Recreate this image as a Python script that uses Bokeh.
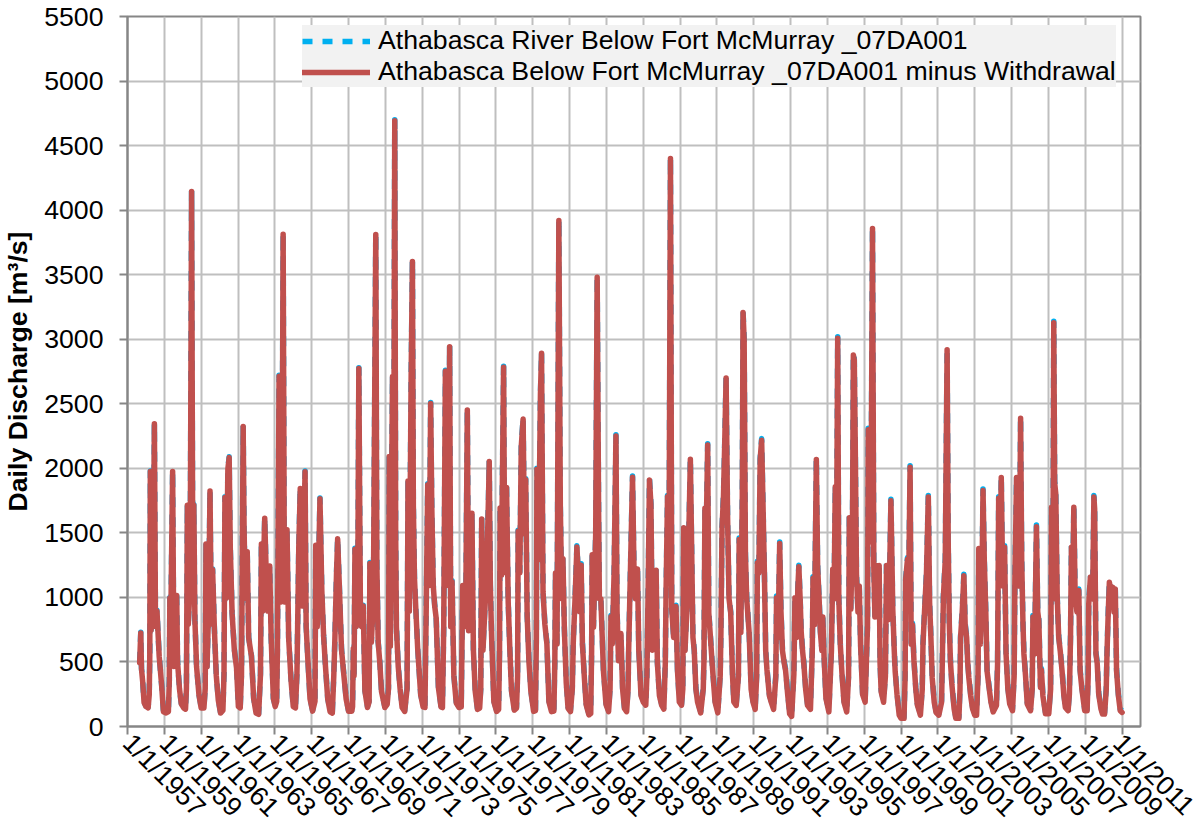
import math
from bokeh.plotting import figure
from bokeh.models import Range1d, FixedTicker, Legend, LegendItem, ColumnDataSource
from bokeh.embed import file_html
from bokeh.resources import INLINE

# (decimal year, daily discharge m3/s), Athabasca River below Fort McMurray
flow_1950s = [
    (1957.66, 500), (1957.72, 730), (1957.76, 450), (1957.82, 360), (1957.90, 190), (1958.00, 160), (1958.12, 150),
    (1958.18, 250), (1958.21, 560), (1958.24, 1980), (1958.28, 750), (1958.33, 1200), (1958.38, 800), (1958.46, 2350),
    (1958.52, 780), (1958.60, 900), (1958.72, 550), (1958.85, 330), (1958.95, 120), (1959.10, 110),
    (1959.22, 120), (1959.27, 360), (1959.30, 1000), (1959.34, 700), (1959.45, 1980), (1959.52, 470), (1959.58, 600),
    (1959.67, 1020), (1959.72, 500), (1959.82, 300), (1959.92, 180),
]
flow_1960s = [
    (1960.05, 150), (1960.15, 140), (1960.20, 300), (1960.25, 1720), (1960.30, 800), (1960.40, 1100), (1960.48, 4150),
    (1960.55, 1000), (1960.60, 1720), (1960.66, 830), (1960.75, 470), (1960.88, 250),
    (1961.00, 150), (1961.15, 150), (1961.22, 300), (1961.26, 1420), (1961.32, 470), (1961.40, 900), (1961.48, 1830),
    (1961.55, 800), (1961.62, 1220), (1961.72, 750), (1961.82, 400), (1961.93, 210),
    (1962.05, 110), (1962.18, 130), (1962.24, 410), (1962.29, 1780), (1962.36, 1000), (1962.45, 2000), (1962.52, 2090),
    (1962.58, 1390), (1962.68, 880), (1962.80, 600), (1962.92, 460),
    (1963.02, 160), (1963.12, 150), (1963.19, 410), (1963.28, 2330), (1963.33, 1530), (1963.40, 1000), (1963.50, 1360),
    (1963.58, 690), (1963.73, 550), (1963.85, 220), (1963.98, 110),
    (1964.12, 100), (1964.22, 410), (1964.27, 1420), (1964.33, 900), (1964.45, 1620), (1964.52, 1250), (1964.62, 900),
    (1964.72, 1250), (1964.80, 690), (1964.92, 220),
    (1965.02, 160), (1965.10, 200), (1965.14, 600), (1965.23, 2720), (1965.30, 970), (1965.38, 1300), (1965.45, 3820),
    (1965.52, 970), (1965.60, 1200), (1965.66, 1530), (1965.75, 690), (1965.88, 360),
    (1966.00, 160), (1966.12, 150), (1966.20, 410), (1966.30, 1400), (1966.38, 1850), (1966.48, 940), (1966.56, 1300),
    (1966.64, 1980), (1966.70, 780), (1966.80, 500), (1966.91, 220),
    (1967.05, 125), (1967.18, 200), (1967.22, 1410), (1967.30, 780), (1967.38, 1300), (1967.45, 1770), (1967.55, 1060),
    (1967.65, 700), (1967.75, 470), (1967.87, 220),
    (1968.00, 120), (1968.12, 110), (1968.20, 400), (1968.25, 630), (1968.35, 1200), (1968.41, 1460), (1968.50, 1100),
    (1968.62, 600), (1968.75, 400), (1968.87, 220),
    (1969.00, 125), (1969.18, 125), (1969.22, 160), (1969.26, 610), (1969.30, 400), (1969.35, 1380), (1969.42, 780),
    (1969.50, 1000), (1969.56, 2780), (1969.65, 800), (1969.71, 780), (1969.80, 940), (1969.89, 280),
]
flow_1970s = [
    (1970.03, 155), (1970.12, 200), (1970.16, 1270), (1970.24, 660), (1970.35, 1000), (1970.48, 3820), (1970.54, 1250),
    (1970.61, 660), (1970.70, 500), (1970.79, 280), (1970.97, 155),
    (1971.10, 180), (1971.17, 300), (1971.21, 2100), (1971.27, 630), (1971.39, 2720), (1971.45, 1500), (1971.51, 4700),
    (1971.56, 1500), (1971.60, 780), (1971.70, 470), (1971.80, 300), (1971.91, 155),
    (1972.05, 125), (1972.18, 300), (1972.23, 1910), (1972.30, 900), (1972.40, 2720), (1972.47, 3610), (1972.52, 1720),
    (1972.58, 1160), (1972.66, 900), (1972.76, 600), (1972.92, 250),
    (1973.05, 160), (1973.15, 155), (1973.22, 940), (1973.30, 1880), (1973.38, 1100), (1973.46, 2510), (1973.52, 1720),
    (1973.60, 1100), (1973.68, 940), (1973.76, 845), (1973.88, 310),
    (1974.02, 160), (1974.10, 155), (1974.17, 780), (1974.26, 2760), (1974.33, 1100), (1974.42, 1300), (1974.49, 2950),
    (1974.55, 780), (1974.62, 1130), (1974.72, 400), (1974.85, 190),
    (1975.00, 155), (1975.12, 160), (1975.20, 1100), (1975.28, 780), (1975.37, 1000), (1975.45, 2460), (1975.52, 750),
    (1975.60, 1000), (1975.70, 1660), (1975.78, 600), (1975.88, 280),
    (1976.00, 140), (1976.12, 150), (1976.18, 300), (1976.23, 1615), (1976.30, 600), (1976.40, 900), (1976.50, 1200),
    (1976.60, 1780), (1976.64, 2060), (1976.70, 1100), (1976.77, 700), (1976.89, 200),
    (1977.04, 125), (1977.15, 140), (1977.20, 600), (1977.23, 1700), (1977.30, 1180), (1977.42, 2790), (1977.48, 1200),
    (1977.58, 1860), (1977.67, 970), (1977.76, 600), (1977.85, 280),
    (1978.00, 135), (1978.12, 150), (1978.18, 400), (1978.21, 1520), (1978.30, 1200), (1978.38, 2180), (1978.48, 2390),
    (1978.55, 1500), (1978.62, 1920), (1978.70, 860), (1978.80, 500), (1978.90, 280),
    (1979.05, 125), (1979.15, 130), (1979.20, 700), (1979.23, 2000), (1979.32, 1300), (1979.42, 2580), (1979.48, 2900),
    (1979.56, 1050), (1979.66, 800), (1979.77, 650), (1979.88, 200),
]
flow_1980s = [
    (1980.02, 125), (1980.15, 130), (1980.20, 500), (1980.24, 1200), (1980.32, 650), (1980.42, 3930), (1980.50, 1710),
    (1980.58, 1000), (1980.64, 1310), (1980.72, 760), (1980.82, 350), (1980.92, 150),
    (1981.05, 125), (1981.15, 300), (1981.20, 650), (1981.30, 1000), (1981.40, 1400), (1981.48, 1180), (1981.55, 900),
    (1981.63, 1260), (1981.70, 650), (1981.80, 400), (1981.90, 180),
    (1982.05, 100), (1982.15, 110), (1982.20, 600), (1982.23, 1340), (1982.30, 780), (1982.42, 1500), (1982.50, 3490),
    (1982.58, 1650), (1982.62, 1000), (1982.70, 1000), (1982.84, 440), (1982.98, 180),
    (1983.12, 125), (1983.20, 300), (1983.25, 860), (1983.32, 650), (1983.42, 1200), (1983.52, 2260), (1983.58, 900),
    (1983.66, 520), (1983.79, 730), (1983.88, 300), (1983.98, 150),
    (1984.10, 125), (1984.18, 300), (1984.21, 600), (1984.30, 1180), (1984.42, 1940), (1984.50, 1230), (1984.58, 1000),
    (1984.69, 1230), (1984.76, 600), (1984.88, 250),
    (1985.00, 200), (1985.14, 175), (1985.20, 400), (1985.27, 1100), (1985.34, 1920), (1985.42, 1730), (1985.50, 600),
    (1985.62, 800), (1985.70, 1220), (1985.77, 500), (1985.88, 250),
    (1986.00, 175), (1986.12, 145), (1986.20, 500), (1986.24, 1040), (1986.32, 1790), (1986.40, 1200), (1986.48, 4410),
    (1986.55, 920), (1986.65, 700), (1986.78, 940), (1986.86, 445), (1986.96, 200),
    (1987.08, 175), (1987.15, 300), (1987.20, 1550), (1987.27, 600), (1987.40, 1000), (1987.52, 1800), (1987.56, 2080),
    (1987.62, 1490), (1987.70, 700), (1987.77, 600), (1987.86, 300), (1987.95, 200),
    (1988.12, 115), (1988.26, 300), (1988.30, 530), (1988.35, 1700), (1988.42, 1500), (1988.50, 2190), (1988.56, 890),
    (1988.65, 700), (1988.77, 445), (1988.90, 200),
    (1989.05, 115), (1989.18, 400), (1989.22, 740), (1989.28, 1550), (1989.36, 1800), (1989.43, 2230), (1989.50, 2710),
    (1989.58, 1640), (1989.66, 1000), (1989.75, 890), (1989.85, 400), (1989.92, 200),
]
flow_1990s = [
    (1990.05, 175), (1990.17, 400), (1990.21, 1460), (1990.30, 740), (1990.38, 1800), (1990.42, 3220), (1990.48, 3010),
    (1990.55, 1340), (1990.62, 1000), (1990.75, 740), (1990.86, 300), (1990.96, 200),
    (1991.08, 145), (1991.16, 400), (1991.20, 1280), (1991.28, 1200), (1991.35, 2080), (1991.43, 2230), (1991.50, 1760),
    (1991.58, 1200), (1991.65, 600), (1991.72, 450), (1991.85, 250), (1991.95, 200),
    (1992.08, 145), (1992.20, 400), (1992.24, 1010), (1992.32, 700), (1992.41, 1430), (1992.48, 900), (1992.56, 600),
    (1992.66, 500), (1992.73, 445), (1992.85, 250), (1992.95, 110),
    (1993.06, 90), (1993.18, 415), (1993.24, 1010), (1993.32, 700), (1993.40, 1100), (1993.45, 1250), (1993.52, 1000),
    (1993.58, 740), (1993.65, 600), (1993.72, 500), (1993.82, 300), (1993.92, 175),
    (1994.08, 145), (1994.18, 600), (1994.22, 1160), (1994.30, 800), (1994.40, 2080), (1994.47, 1250), (1994.55, 1000),
    (1994.62, 740), (1994.70, 600), (1994.75, 860), (1994.82, 550), (1994.92, 230),
    (1995.08, 125), (1995.22, 600), (1995.29, 1230), (1995.36, 1000), (1995.43, 1870), (1995.50, 1500), (1995.56, 3020),
    (1995.62, 1000), (1995.70, 650), (1995.80, 400), (1995.90, 200),
    (1996.05, 125), (1996.15, 400), (1996.19, 1630), (1996.27, 920), (1996.36, 1500), (1996.41, 2890), (1996.46, 2850),
    (1996.51, 2230), (1996.58, 1180), (1996.66, 900), (1996.73, 1100), (1996.80, 650), (1996.91, 260),
    (1997.05, 200), (1997.18, 800), (1997.22, 2310), (1997.30, 1440), (1997.38, 2000), (1997.45, 3870), (1997.52, 1250),
    (1997.58, 860), (1997.66, 1260), (1997.74, 1100), (1997.81, 1260), (1997.86, 500), (1997.92, 280),
    (1998.05, 200), (1998.15, 400), (1998.21, 1260), (1998.30, 840), (1998.38, 1200), (1998.45, 1760), (1998.55, 920),
    (1998.63, 600), (1998.68, 440), (1998.78, 260), (1998.90, 100),
    (1999.00, 75), (1999.16, 75), (1999.22, 400), (1999.25, 1150), (1999.35, 1310), (1999.42, 1200), (1999.49, 2020),
    (1999.55, 650), (1999.62, 800), (1999.70, 520), (1999.80, 300), (1999.88, 180),
]
flow_2000s = [
    (2000.05, 100), (2000.15, 300), (2000.19, 650), (2000.28, 920), (2000.38, 1200), (2000.48, 1790), (2000.55, 970),
    (2000.62, 700), (2000.69, 390), (2000.80, 200), (2000.90, 120),
    (2001.05, 100), (2001.20, 200), (2001.23, 440), (2001.30, 1020), (2001.40, 1300), (2001.50, 2930), (2001.56, 1440),
    (2001.62, 800), (2001.68, 520), (2001.76, 335), (2001.88, 150), (2001.97, 75),
    (2002.14, 75), (2002.20, 300), (2002.23, 700), (2002.32, 900), (2002.41, 1180), (2002.48, 800), (2002.56, 700),
    (2002.62, 500), (2002.68, 390), (2002.78, 250), (2002.88, 150),
    (2003.00, 100), (2003.10, 100), (2003.18, 400), (2003.22, 1390), (2003.30, 650), (2003.38, 1000), (2003.45, 1840),
    (2003.52, 1290), (2003.60, 900), (2003.67, 440), (2003.76, 335), (2003.88, 200),
    (2004.00, 125), (2004.18, 175), (2004.24, 500), (2004.30, 1780), (2004.36, 1200), (2004.44, 1940), (2004.52, 1100),
    (2004.62, 1400), (2004.70, 574), (2004.80, 300), (2004.90, 186),
    (2005.05, 134), (2005.14, 400), (2005.18, 1140), (2005.27, 1940), (2005.35, 1300), (2005.42, 1100), (2005.49, 2400),
    (2005.55, 1300), (2005.62, 800), (2005.67, 574), (2005.76, 400), (2005.85, 186),
    (2006.03, 134), (2006.12, 300), (2006.16, 860), (2006.25, 574), (2006.35, 1560), (2006.42, 900), (2006.48, 832),
    (2006.57, 315), (2006.62, 450), (2006.70, 250), (2006.84, 110),
    (2007.02, 110), (2007.12, 300), (2007.17, 1710), (2007.24, 1000), (2007.29, 3140), (2007.34, 1900), (2007.40, 1814),
    (2007.48, 1000), (2007.56, 700), (2007.64, 600), (2007.74, 444), (2007.84, 250), (2007.92, 160),
    (2008.07, 134), (2008.14, 264), (2008.20, 700), (2008.25, 1400), (2008.32, 1100), (2008.38, 1710), (2008.45, 1039),
    (2008.55, 900), (2008.65, 1065), (2008.72, 444), (2008.82, 300), (2008.97, 134),
    (2009.10, 134), (2009.16, 400), (2009.19, 960), (2009.28, 1170), (2009.40, 1000), (2009.47, 1790), (2009.51, 1700),
    (2009.58, 574), (2009.65, 500), (2009.73, 264), (2009.85, 150), (2009.94, 108),
]
flow_2010s = [
    (2010.05, 108), (2010.14, 300), (2010.18, 574), (2010.25, 900), (2010.31, 1130), (2010.40, 1050), (2010.50, 1090),
    (2010.56, 900), (2010.63, 1078), (2010.70, 444), (2010.80, 250), (2010.90, 134), (2011.00, 121),
]
# withdrawal (m3/s) by decade: 1950s ... 2010s
withdrawal = [5, 6, 8, 10, 12, 12, 12]

year_ticks = list(range(1957, 2012, 2))
tick_labels = {y: "1/1/%d" % y for y in year_ticks}
legend_labels = ["Athabasca River Below Fort McMurray _07DA001",
                 "Athabasca Below Fort McMurray _07DA001 minus Withdrawal"]

t, q_nat, q_net = [], [], []
for pts, w in zip([flow_1950s, flow_1960s, flow_1970s, flow_1980s, flow_1990s, flow_2000s, flow_2010s], withdrawal):
    for yr, q in pts:
        t.append(yr)
        q_nat.append(q)
        q_net.append(q - w)
src = ColumnDataSource(dict(t=t, q_nat=q_nat, q_net=q_net))

FONT = "Liberation Sans"
GRID = "#bfbfbf"
AXC = "#868686"

p = figure(width=1200, height=836, output_backend="svg", toolbar_location=None,
           x_range=Range1d(1957, 2012), y_range=Range1d(0, 5500),
           min_border_left=124, min_border_right=60, min_border_top=16, min_border_bottom=107)
p.outline_line_color = AXC
p.outline_line_width = 2
p.background_fill_color = "white"
p.border_fill_color = "white"

p.xaxis.ticker = FixedTicker(ticks=year_ticks)
p.xaxis.major_label_overrides = tick_labels
p.xaxis.major_label_orientation = -math.pi / 4
p.yaxis.ticker = FixedTicker(ticks=list(range(0, 5501, 500)))
for ax in (p.xaxis[0], p.yaxis[0]):
    ax.axis_line_color = AXC
    ax.axis_line_width = 2
    ax.major_tick_line_color = AXC
    ax.major_tick_line_width = 2
    ax.major_tick_out = 8
    ax.major_tick_in = 0
    ax.minor_tick_line_color = None
    ax.major_label_text_font = FONT
    ax.major_label_text_font_size = "20pt"
    ax.major_label_text_color = "black"
p.xaxis.major_label_standoff = 4
p.yaxis.major_label_standoff = 16
p.yaxis.axis_label = "Daily Discharge [m³/s]"
p.yaxis.axis_label_text_font = FONT
p.yaxis.axis_label_text_font_style = "bold"
p.yaxis.axis_label_text_font_size = "20pt"
p.yaxis.axis_label_standoff = 8
p.yaxis.axis_label_text_color = "black"

p.xgrid.ticker = FixedTicker(ticks=year_ticks)
for g in (p.xgrid[0], p.ygrid[0]):
    g.grid_line_color = GRID
    g.grid_line_width = 2

r_nat = p.line("t", "q_nat", source=src, line_color="#00b0f0", line_width=5.5, line_dash="10 10",
               line_cap="butt", line_join="round")
r_net = p.line("t", "q_net", source=src, line_color="#c0504d", line_width=5.5,
               line_cap="round", line_join="round")

legend = Legend(items=[LegendItem(label=legend_labels[0], renderers=[r_nat]),
                       LegendItem(label=legend_labels[1], renderers=[r_net])],
                location=(175, 639), padding=3, spacing=0, margin=0,
                glyph_width=68, glyph_height=26, label_height=26, label_standoff=8,
                label_text_font=FONT, label_text_font_size="20pt", label_text_color="black",
                background_fill_color="#f2f2f2", background_fill_alpha=1.0, border_line_color=None)
p.add_layout(legend)

open("out.html", "w").write(file_html(p, INLINE))
